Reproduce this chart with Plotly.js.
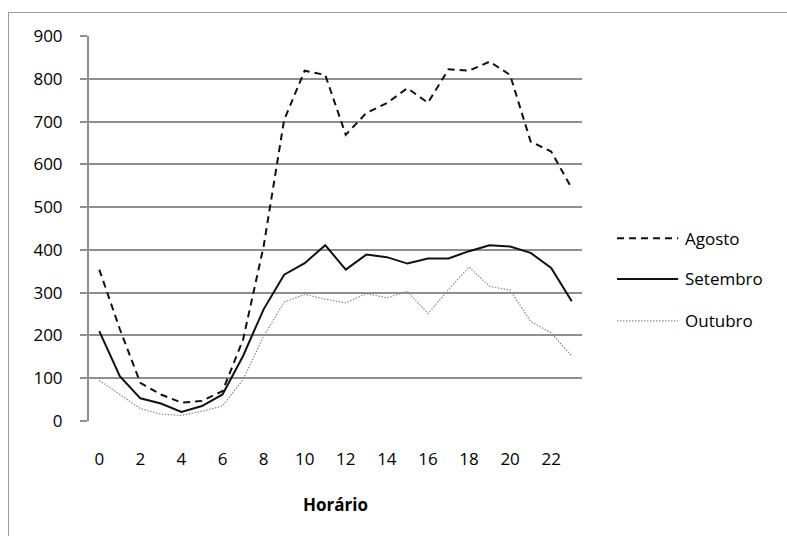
<!DOCTYPE html>
<html>
<head>
<meta charset="utf-8">
<script src="https://cdn.plot.ly/plotly-3.0.1.min.js"></script>
<style>
html,body{margin:0;padding:0;background:#fff;}
#wrap{position:relative;width:787px;height:536px;}
#chart{position:absolute;left:0;top:0;width:787px;height:536px;}
#frame{position:absolute;left:8px;top:12px;width:800px;height:600px;border:1px solid #9a9a9a;pointer-events:none;}
</style>
</head>
<body>
<div id="wrap">
<div id="chart"></div>
<div id="frame"></div>
</div>
<script>
const hours = [0,1,2,3,4,5,6,7,8,9,10,11,12,13,14,15,16,17,18,19,20,21,22,23];
const agosto = [354,215,89,62,43,47,70,190,408,704,819,809,669,720,743,778,744,822,819,840,809,653,630,544];
const setembro = [210,105,53,41,21,35,62,152,261,342,369,411,354,389,383,368,380,380,397,411,408,393,358,280];
const outubro = [95,62,29,16,13,23,35,97,198,278,296,285,276,298,288,303,251,307,360,315,306,233,206,152];
const xTicks = [0,2,4,6,8,10,12,14,16,18,20,22];
const yTicks = [0,100,200,300,400,500,600,700,800,900];
const seriesNames = ['Agosto','Setembro','Outubro'];

const styles = [
  {color:'#111', width:2, dash:'7px,5px'},
  {color:'#111', width:2, dash:'solid'},
  {color:'#8a8a8a', width:1.2, dash:'1.5px,1.5px'}
];
const seriesData = [agosto, setembro, outubro];

const traces = seriesData.map((d,i)=>({
  type:'scatter', mode:'lines', x:hours, y:d, name:seriesNames[i],
  line:{color:styles[i].color, width:styles[i].width, dash:styles[i].dash},
  showlegend:false, hoverinfo:'skip'
}));

const fam = '"Open Sans", "Noto Sans", sans-serif';
const font = {family:fam, size:17, color:'#000'};

// custom legend
const legY = [0.475, 0.369, 0.260];
const shapes = [];
const annotations = [];
seriesNames.forEach((n,i)=>{
  shapes.push({type:'line', xref:'paper', yref:'paper', x0:1.071, x1:1.195, y0:legY[i], y1:legY[i],
    line:{color:styles[i].color, width:styles[i].width, dash:styles[i].dash}});
  annotations.push({xref:'paper', yref:'paper', x:1.205, y:legY[i], xanchor:'left', yanchor:'middle',
    text:n, showarrow:false, font:font});
});

const layout = {
  width:787, height:536,
  margin:{l:89, r:205, t:36, b:115},
  paper_bgcolor:'#fff', plot_bgcolor:'#fff',
  font:font,
  showlegend:false,
  xaxis:{
    range:[-0.5, 23.5], tickmode:'array', tickvals:xTicks, ticktext:xTicks.map(String),
    showgrid:false, zeroline:false, showline:false, ticks:'',
    ticklabelstandoff:26,
    tickfont:{family:fam, size:17, color:'#000'},
    title:{text:'<b>Horário</b>', font:{family:fam, size:17, color:'#000'}, standoff:30}
  },
  yaxis:{
    range:[0,900], tickmode:'array', tickvals:yTicks, ticktext:yTicks.map(String),
    showgrid:true, gridcolor:'#8f8f8f', gridwidth:2,
    zeroline:false, showline:true, linecolor:'#8f8f8f', linewidth:2,
    ticks:'outside', ticklen:7, tickcolor:'#8f8f8f', tickwidth:2,
    ticklabelstandoff:14,
    tickfont:{family:fam, size:17, color:'#000'}
  },
  shapes:shapes,
  annotations:annotations
};

Plotly.newPlot('chart', traces, layout, {staticPlot:true, displayModeBar:false});
</script>
</body>
</html>
